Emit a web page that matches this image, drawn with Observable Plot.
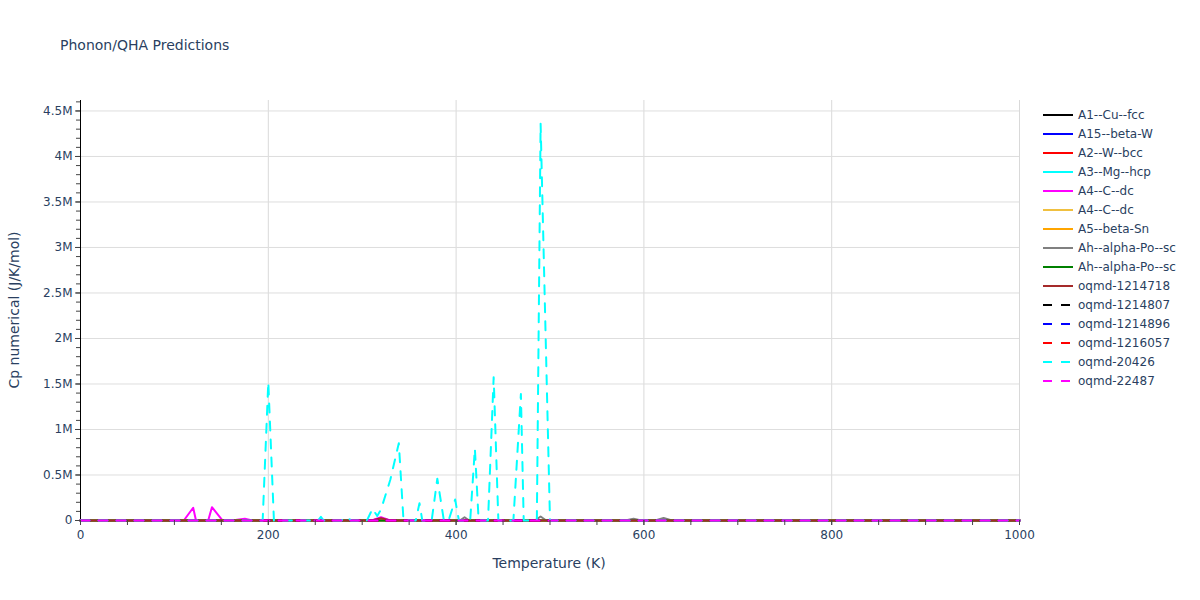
<!DOCTYPE html>
<html><head><meta charset="utf-8">
<script src="https://cdn.jsdelivr.net/npm/d3@7"></script>
<script src="https://cdn.jsdelivr.net/npm/@observablehq/plot@0.6"></script>
<style>
body{margin:0;background:#fff;}
#wrap{position:relative;width:1200px;height:600px;}
#wrap svg{position:absolute;left:0;top:0;}
</style></head><body>
<div id="wrap"></div>
<script>
// ---- data (Temperature K, Cp J/K/mol) ----
const seriesNames = ["A1--Cu--fcc","A15--beta-W","A2--W--bcc","A3--Mg--hcp","A4--C--dc","A4--C--dc","A5--beta-Sn","Ah--alpha-Po--sc","Ah--alpha-Po--sc","oqmd-1214718","oqmd-1214807","oqmd-1214896","oqmd-1216057","oqmd-20426","oqmd-22487"];
const seriesColors = ["#000000","#0000ff","#ff0000","#00ffff","#ff00ff","#f0c040","#ffa500","#808080","#008000","#a52a2a","#000000","#0000ff","#ff0000","#00ffff","#ff00ff"];
const seriesDashed = [false,false,false,false,false,false,false,false,false,false,true,true,true,true,true];

const a1CuFcc = [[0,0],[1000,0]];
const a15BetaW = [[0,0],[1000,0]];
const a2WBcc = [[0,0],[1000,0]];
const a3MgHcp = [[0,0],[1000,0]];
const a4CDc = [[0,0],[100,0],[110,0],[120,140000],[123,0],[136,0],[140,146000],[151,5000],[165,5000],[175,20000],[183,0],[310,0],[320,35000],[330,0],[1000,0]];
const a4CDc2 = [[0,0],[1000,0]];
const a5BetaSn = [[0,0],[1000,0]];
const ahAlphaPo = [[0,0],[400,0],[404,0],[409,36000],[414,0],[484,0],[490,44000],[496,0],[580,0],[589,20000],[597,0],[612,0],[621,28000],[630,0],[1000,0]];
const ahAlphaPo2 = [[0,0],[1000,0]];
const oqmd1214718 = [[0,0],[310,0],[320,25000],[330,0],[1000,0]];
const oqmd1214807 = [[0,0],[1000,0]];
const oqmd1214896 = [[0,0],[1000,0]];
const oqmd1216057 = [[0,0],[1000,0]];
const oqmd20426 = [[0,0],[190,0],[194,0],[200,1520000],[206,0],[250,0],[253,0],[256,40000],[259,0],[278,0],[281,30000],[285,30000],[288,0],[305,0],[311,130000],[316,50000],[320,120000],[330,450000],[339,850000],[344,0],[357,0],[361,190000],[364,0],[374,0],[380,460000],[387,0],[392,0],[399,230000],[403,0],[415,0],[420,790000],[424,0],[434,0],[440,1575000],[445,0],[461,0],[469,1390000],[472,0],[486,0],[490,4360000],[500,0],[1000,0]];
const oqmd22487 = [[0,0],[1000,0]];

const seriesData = [a1CuFcc,a15BetaW,a2WBcc,a3MgHcp,a4CDc,a4CDc2,a5BetaSn,ahAlphaPo,ahAlphaPo2,oqmd1214718,oqmd1214807,oqmd1214896,oqmd1216057,oqmd20426,oqmd22487];

const xTicks = [0,200,400,600,800,1000];
const xMinorTicks = d3.range(0,1001,50);
const yTicks = [0,500000,1000000,1500000,2000000,2500000,3000000,3500000,4000000,4500000];
const yTickLabels = ["0","0.5M","1M","1.5M","2M","2.5M","3M","3.5M","4M","4.5M"];
const yMinorTicks = d3.range(0,4600001,100000);

const textColor = "#2a3f5f";
const font = "'DejaVu Sans', Verdana, sans-serif";

const lineMarks = seriesData.map((d,i) => Plot.line(d, {
  x: p => p[0], y: p => p[1],
  stroke: seriesColors[i], strokeWidth: 2,
  strokeDasharray: seriesDashed[i] ? "9,9" : null,
  strokeLinejoin: "round"
}));

const chart = Plot.plot({
  width: 1200, height: 600,
  marginLeft: 80, marginRight: 181, marginTop: 100, marginBottom: 80,
  style: {fontFamily: font, fontSize: "12px", color: textColor, background: "transparent"},
  x: {domain: [0,1000]},
  y: {domain: [0,4615000]},
  marks: [
    Plot.gridX(xTicks, {stroke: "#d9d9d9", strokeOpacity: 1}),
    Plot.gridY(yTicks, {stroke: "#dedede", strokeOpacity: 1}),
    Plot.ruleX([0], {stroke: "#000", strokeWidth: 1}),
    Plot.ruleY([0], {stroke: "#000", strokeWidth: 1}),
    ...lineMarks,
    Plot.axisX({ticks: xMinorTicks, tickFormat: () => "", tickSize: 5, stroke: "#444", label: null}),
    Plot.axisX({ticks: xTicks, tickFormat: d3.format("d"), tickSize: 5, tickPadding: 5, stroke: "#444", fill: textColor, fontSize: 12, label: null}),
    Plot.axisY({ticks: yMinorTicks, tickFormat: () => "", tickSize: 4, stroke: "#444", label: null}),
    Plot.axisY({ticks: yTicks, tickFormat: v => yTickLabels[yTicks.indexOf(v)], tickSize: 5, tickPadding: 3, stroke: "#444", fill: textColor, fontSize: 12, label: null})
  ]
});

document.getElementById("wrap").appendChild(chart);
const svg = d3.select(chart);

svg.append("text").attr("x", 60).attr("y", 50).attr("text-anchor", "start").attr("fill", textColor)
  .style("font-size", "14px").style("font-family", font).text("Phonon/QHA Predictions");
svg.append("text").attr("x", 549).attr("y", 563).attr("dy", "0.35em").attr("text-anchor", "middle")
  .attr("fill", textColor).style("font-size", "14px").style("font-family", font).text("Temperature (K)");
svg.append("text").attr("transform", "translate(14,310) rotate(-90)").attr("dy", "0.35em").attr("text-anchor", "middle")
  .attr("fill", textColor).style("font-size", "14px").style("font-family", font).text("Cp numerical (J/K/mol)");

const lg = svg.append("g");
seriesNames.forEach((name, i) => {
  const y = 115 + 19 * i;
  lg.append("line").attr("x1", 1043).attr("x2", 1073).attr("y1", y).attr("y2", y)
    .attr("stroke", seriesColors[i]).attr("stroke-width", 2)
    .attr("stroke-dasharray", seriesDashed[i] ? "9,9" : null);
  lg.append("text").attr("x", 1078).attr("y", y).attr("dy", "0.35em").attr("text-anchor", "start").attr("fill", textColor)
    .style("font-size", "12px").style("font-family", font).text(name);
});
</script>
</body></html>
